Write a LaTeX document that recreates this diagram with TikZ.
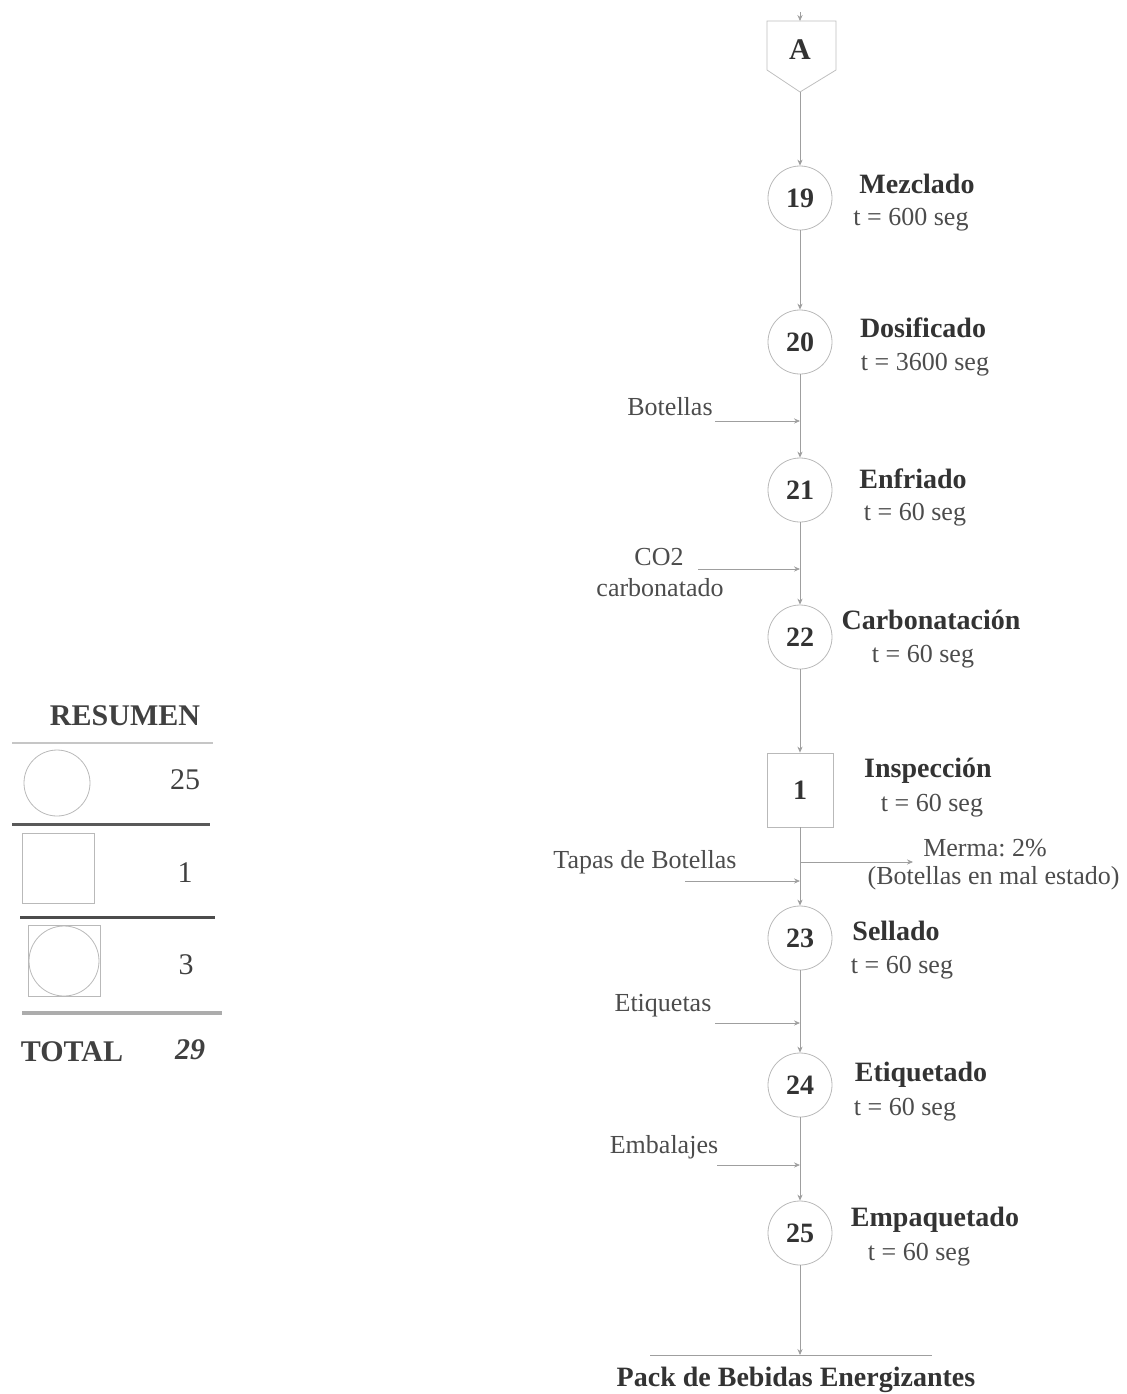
\documentclass[tikz,border=0pt]{standalone}
\usepackage{fontspec}
\setmainfont{Liberation Serif}
\usetikzlibrary{arrows.meta}
\usetikzlibrary{shapes}

\begin{document}
\begin{tikzpicture}[x=0.5pt, y=-0.5pt, >={Stealth[length=3pt, width=2.6pt]},
    op/.style={draw=gray!55, circle, minimum size=32pt, inner sep=0pt, text=black!80,
               font=\fontsize{14}{16}\selectfont\bfseries},
    insp/.style={draw=gray!55, rectangle, minimum width=33pt, minimum height=37pt, inner sep=0pt,
               text=black!80, font=\fontsize{14}{16}\selectfont\bfseries},
    title/.style={font=\fontsize{14}{16}\selectfont\bfseries, text=black!80},
    info/.style={font=\fontsize{13}{15}\selectfont, text=black!70},
    flow/.style={draw=gray!75, ->},
    sum/.style={font=\fontsize{15}{17}\selectfont, text=black!75}]

    \useasboundingbox (0, 0) rectangle (1126, 1394);

    % Declare the connector page
    \draw[draw=gray!50, fill=white] (767, 21) -- (836, 21) -- (836, 70) -- (800, 92) -- (767, 70) -- cycle;
    \node[title, font=\fontsize{15}{17}\selectfont\bfseries] at (800, 50) (A) {A};
    \coordinate (Atop0) at (800, 12);
    \coordinate (Atop) at (800, 21);
    \coordinate (Abot) at (800, 92);

    % Declare the operations
    \node[op] at (800, 198) (op19) {19};
    \node[op] at (800, 342) (op20) {20};
    \node[op] at (800, 490) (op21) {21};
    \node[op] at (800, 637) (op22) {22};
    \node[insp] at (800, 790) (in1) {1};
    \node[op] at (800, 938) (op23) {23};
    \node[op] at (800, 1085) (op24) {24};
    \node[op] at (800, 1233) (op25) {25};

    % Declare the labels
    \node[title] at (917, 184) (l19) {Mezclado};
    \node[info] at (911, 220) (t19) {t = 600 seg};
    \node[title] at (923, 328) (l20) {Dosificado};
    \node[info] at (925, 365) (t20) {t = 3600 seg};
    \node[title] at (913, 479) (l21) {Enfriado};
    \node[info] at (915, 515) (t21) {t = 60 seg};
    \node[title] at (931, 620) (l22) {Carbonatación};
    \node[info] at (923, 657) (t22) {t = 60 seg};
    \node[title] at (928, 771) (l1) {Inspección};
    \node[info] at (932, 806) (t1) {t = 60 seg};
    \node[title] at (896, 931) (l23) {Sellado};
    \node[info] at (902, 968) (t23) {t = 60 seg};
    \node[title] at (921, 1075) (l24) {Etiquetado};
    \node[info] at (905, 1110) (t24) {t = 60 seg};
    \node[title] at (935, 1220) (l25) {Empaquetado};
    \node[info] at (919, 1255) (t25) {t = 60 seg};

    % Declare the inputs
    \node[info] at (670, 407) (botellas) {Botellas};
    \coordinate (botIn) at (715, 421);
    \coordinate (botJ) at (800, 421);
    \node[info] at (659, 557) (co2) {CO2};
    \node[info] at (660, 588) (carb) {carbonatado};
    \coordinate (co2In) at (698, 569);
    \coordinate (co2J) at (800, 569);
    \node[info] at (645, 862) (tapas) {Tapas de Botellas};
    \coordinate (tapIn) at (685, 881);
    \coordinate (tapJ) at (800, 881);
    \node[info] at (663, 1006) (etiq) {Etiquetas};
    \coordinate (etiIn) at (715, 1023);
    \coordinate (etiJ) at (800, 1023);
    \node[info] at (664, 1147) (emba) {Embalajes};
    \coordinate (embIn) at (717, 1165);
    \coordinate (embJ) at (800, 1165);

    % Declare the output
    \coordinate (merJ) at (800, 862);
    \coordinate (merOut) at (913, 862);
    \node[info] at (985, 848) (merma) {Merma:\ 2\%};
    \node[info, anchor=east, inner sep=1pt] at (1122, 878) (mermaB) {(Botellas en mal estado)};
    \coordinate (endJ) at (800, 1355);
    \coordinate (endL) at (650, 1355);
    \coordinate (endR) at (932, 1355);
    \node[title] at (796, 1380) (pack) {Pack de Bebidas Energizantes};

    % Declare edges
    \draw[flow] (Atop0) -- (Atop);
    \draw[flow] (Abot) -- (op19);
    \draw[flow] (op19) -- (op20);
    \draw[flow] (op20) -- (op21);
    \draw[flow] (op21) -- (op22);
    \draw[flow] (op22) -- (in1);
    \draw[flow] (in1) -- (op23);
    \draw[flow] (op23) -- (op24);
    \draw[flow] (op24) -- (op25);
    \draw[flow] (op25) -- (endJ);
    \draw[draw=gray!75] (endL) -- (endR);

    % Declare input edges
    \draw[flow] (botIn) -- (botJ);
    \draw[flow] (co2In) -- (co2J);
    \draw[flow] (tapIn) -- (tapJ);
    \draw[flow] (etiIn) -- (etiJ);
    \draw[flow] (embIn) -- (embJ);
    \draw[flow] (merJ) -- (merOut);

    % Declare the summary
    \node[sum, font=\fontsize{15}{17}\selectfont\bfseries] at (125, 716) (res) {RESUMEN};
    \draw[draw=gray!45, line width=1pt] (12, 743) -- (213, 743);
    \node[draw=gray!55, circle, minimum size=33pt, inner sep=0pt] at (57, 783) (sOp) {};
    \node[sum] at (185, 780) (nOp) {25};
    \draw[draw=black!65, line width=1.5pt] (12, 824) -- (210, 824);
    \node[draw=gray!55, rectangle, minimum width=36pt, minimum height=35pt, inner sep=0pt] at (58, 868) (sIn) {};
    \node[sum] at (185, 873) (nIn) {1};
    \draw[draw=black!70, line width=1.5pt] (20, 917) -- (215, 917);
    \node[draw=gray!55, rectangle, minimum width=36pt, minimum height=35.5pt, inner sep=0pt] at (64, 961) (sCo) {};
    \node[draw=gray!55, circle, minimum size=35pt, inner sep=0pt] at (64, 961) (sCoC) {};
    \node[sum] at (186, 965) (nCo) {3};
    \draw[draw=gray!65, line width=2pt] (22, 1013) -- (222, 1013);
    \node[sum, font=\fontsize{15}{17}\selectfont\bfseries] at (72, 1052) (tot) {TOTAL};
    \node[sum, font=\fontsize{15}{17}\selectfont\bfseries\itshape] at (190, 1050) (nTot) {29};

\end{tikzpicture}
\end{document}
